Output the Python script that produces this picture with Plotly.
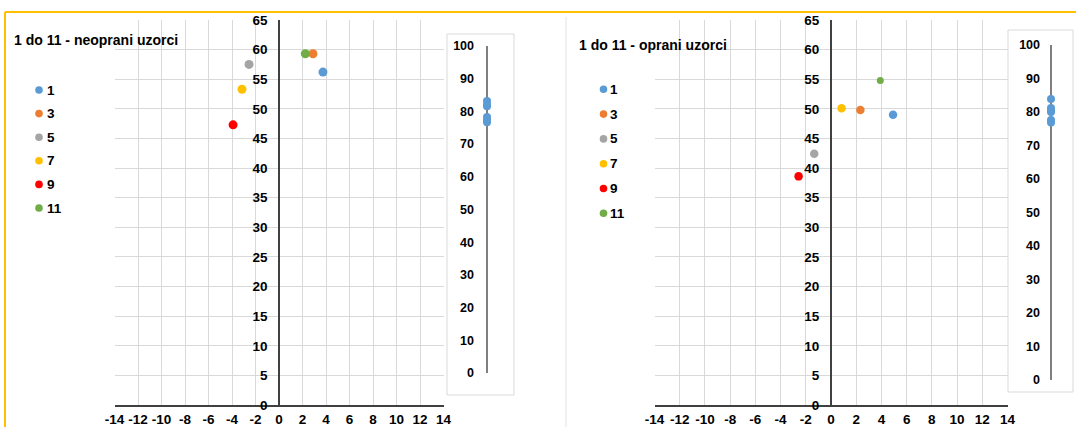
import plotly.graph_objects as go

W, H = 1076, 427

# Samples 1..11 (odd) and their colours
samples = ["1", "3", "5", "7", "9", "11"]
colors = ["#5B9BD5", "#ED7D31", "#A5A5A5", "#FFC000", "#FF0000", "#70AD47"]

# Unwashed samples (neoprani uzorci): a*, b*, L*
neo_a = [3.74, 2.89, -2.55, -3.15, -3.91, 2.24]
neo_b = [56.2, 59.3, 57.5, 53.3, 47.3, 59.3]
neo_L = [82.0, 83.2, 78.3, 76.7, 81.6, 77.4]

# Washed samples (oprani uzorci): a*, b*, L*
opr_a = [4.92, 2.33, -1.33, 0.84, -2.57, 3.91]
opr_b = [49.0, 49.8, 42.4, 50.1, 38.6, 54.8]
opr_L = [77.6, 80.4, 83.9, 81.2, 76.9, 80.0]

titles = ["1 do 11 - neoprani uzorci", "1 do 11 - oprani uzorci"]

# axis ticks (hyphen minus, as printed)
x_ticks = list(range(-14, 15, 2))
y_ticks = list(range(0, 66, 5))
l_ticks = list(range(0, 101, 10))

# marker sizes per panel (style only)
neo_size = [9, 9, 9, 9, 9, 9]
opr_size = [8.5, 8.5, 8.5, 8.5, 8.5, 7]

FONT = "Liberation Sans, Arial, sans-serif"
GRID = "#d9d9d9"
AXLINE = "#404040"


def px(x):
    return x / W


def py(y):
    return 1 - y / H


def bold(vals):
    return ["<b>%s</b>" % v for v in vals]


tick_main = dict(family=FONT, size=13.5, color="#000000", weight=700)
tick_small = dict(family=FONT, size=12.5, color="#000000", weight=700)

fig = go.Figure()

# a*/b* scatter, both panels
for i, s in enumerate(samples):
    fig.add_trace(go.Scatter(
        x=[neo_a[i]], y=[neo_b[i]], mode="markers", name=s,
        marker=dict(color=colors[i], size=neo_size[i]),
        xaxis="x", yaxis="y", showlegend=False, hoverinfo="x+y+name"))
for i, s in enumerate(samples):
    fig.add_trace(go.Scatter(
        x=[opr_a[i]], y=[opr_b[i]], mode="markers", name=s,
        marker=dict(color=colors[i], size=opr_size[i]),
        xaxis="x2", yaxis="y2", showlegend=False, hoverinfo="x+y+name"))

# L* strips
fig.add_trace(go.Scatter(
    x=[0] * len(neo_L), y=neo_L, mode="markers", name="L",
    marker=dict(color=colors[0], size=8),
    xaxis="x3", yaxis="y3", showlegend=False))
fig.add_trace(go.Scatter(
    x=[0] * len(opr_L), y=opr_L, mode="markers", name="L",
    marker=dict(color=colors[0], size=8),
    xaxis="x4", yaxis="y4", showlegend=False))


def main_x(left, right, anchor):
    return dict(domain=[px(left), px(right)], range=[-14, 14],
                tickmode="array", tickvals=x_ticks, ticktext=bold(x_ticks),
                tickangle=0, automargin=False,
                showgrid=True, gridcolor=GRID, gridwidth=1, zeroline=False,
                showline=True, linecolor=AXLINE, linewidth=1.5, ticks="",
                tickfont=tick_main, ticklabelstandoff=1, anchor=anchor,
                fixedrange=True)


def main_y(xpos):
    return dict(domain=[py(405), py(20)], range=[0, 65],
                tickmode="array", tickvals=y_ticks, ticktext=bold(y_ticks),
                tickangle=0, automargin=False,
                showgrid=True, gridcolor=GRID, gridwidth=1, zeroline=False,
                showline=True, linecolor=AXLINE, linewidth=1.5, ticks="",
                tickfont=tick_main, ticklabelstandoff=8, anchor="free",
                position=px(xpos), side="left", fixedrange=True)


def strip_x(left, right, anchor):
    return dict(domain=[px(left), px(right)], range=[-1, 1], showticklabels=False,
                showgrid=False, showline=False, zeroline=True, automargin=False,
                zerolinecolor="#7f7f7f", zerolinewidth=1.5, anchor=anchor,
                fixedrange=True)


def strip_y(top, bottom, anchor):
    return dict(domain=[py(bottom), py(top)], range=[0, 100],
                tickmode="array", tickvals=l_ticks, ticktext=bold(l_ticks),
                tickangle=0, automargin=False,
                showgrid=False, showline=False, zeroline=False, ticks="",
                tickfont=tick_small, ticklabelstandoff=2, anchor=anchor,
                fixedrange=True)


shapes = []
annotations = []

# panel frames
shapes.append(dict(type="line", xref="paper", yref="paper",
                   x0=px(566), x1=px(566), y0=py(17), y1=py(427),
                   line=dict(color="#e3e3e3", width=1)))
shapes.append(dict(type="rect", xref="paper", yref="paper",
                   x0=px(447), x1=px(514), y0=py(395), y1=py(34),
                   line=dict(color=GRID, width=1)))
shapes.append(dict(type="rect", xref="paper", yref="paper",
                   x0=px(1008), x1=px(1073), y0=py(392), y1=py(30),
                   line=dict(color=GRID, width=1)))
shapes.append(dict(type="line", xref="paper", yref="paper",
                   x0=px(5), x1=px(1076), y0=py(12), y1=py(12),
                   line=dict(color="#FFC000", width=2)))
shapes.append(dict(type="line", xref="paper", yref="paper",
                   x0=px(5), x1=px(5), y0=py(12), y1=py(427),
                   line=dict(color="#FFC000", width=2)))

# titles
title_font = dict(family=FONT, size=14, color="#000000", weight=700)
for t, (tx, ty) in zip(titles, [(12, 40), (577, 45)]):
    annotations.append(dict(text=t, xref="paper", yref="paper", x=px(tx), y=py(ty),
                            xanchor="left", yanchor="middle", showarrow=False,
                            font=title_font))

# legends
leg_font = dict(family=FONT, size=13.5, color="#000000", weight=700)
for (mx, tx, y0, step) in [(39, 45, 90, 23.6), (603.5, 608, 89.3, 24.8)]:
    for i, s in enumerate(samples):
        cy = y0 + step * i
        r = 3.8
        shapes.append(dict(type="circle", xref="paper", yref="paper",
                           x0=px(mx - r), x1=px(mx + r), y0=py(cy + r), y1=py(cy - r),
                           fillcolor=colors[i], line=dict(width=0)))
        annotations.append(dict(text=s, xref="paper", yref="paper", x=px(tx), y=py(cy),
                                xanchor="left", yanchor="middle", showarrow=False,
                                font=leg_font))

fig.update_layout(
    width=W, height=H, autosize=False,
    margin=dict(l=0, r=0, t=0, b=0, pad=0, autoexpand=False),
    paper_bgcolor="#ffffff", plot_bgcolor="#ffffff",
    showlegend=False,
    xaxis=main_x(114.5, 443.5, "y"),
    yaxis=main_y(279),
    xaxis2=main_x(654.5, 1007.5, "y2"),
    yaxis2=main_y(830.7),
    xaxis3=strip_x(477, 497, "y3"),
    yaxis3=strip_y(46, 373, "x3"),
    xaxis4=strip_x(1043, 1059, "y4"),
    yaxis4=strip_y(45, 380, "x4"),
    shapes=shapes,
    annotations=annotations,
)

fig.write_html("out.html")
